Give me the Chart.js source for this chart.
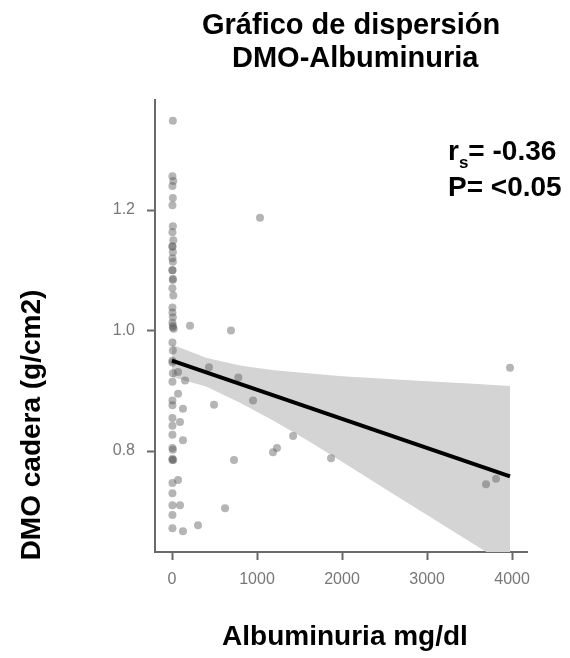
<!DOCTYPE html>
<html>
<head>
<meta charset="utf-8">
<script src="https://cdn.jsdelivr.net/npm/chart.js@4.4.1/dist/chart.umd.min.js"></script>
<style>
  html, body { margin: 0; padding: 0; background: #fff; }
  #wrap { width: 570px; height: 658px; }
</style>
</head>
<body>
<div id="wrap"><canvas id="chart" width="570" height="658"></canvas></div>
<script>
'use strict';
// albuminuria (mg/dl) and hip BMD (g/cm2)
var albX = [10, 5, 15, 5, 10, 5, 10, 5, 15, 5, 10, 5,
  10, 5, 10, 5, 15, 5, 10, 5, 10, 20, 5, 10,
  212, 694, 1035,
  5, 71, 10, 153, 5, 435, 780, 71, 5, 5, 129, 494, 953, 5, 94, 5, 5, 129, 5,
  10, 5, 15, 729, 71, 5, 5, 5, 94, 624, 5, 5, 129, 306,
  1424, 1188, 1235, 1871, 3976, 3694, 3812,
  5, 10, 5, 5, 10, 5, 5];
var dmoY = [1.348, 1.256, 1.248, 1.240, 1.220, 1.208, 1.173, 1.163, 1.150, 1.139, 1.130, 1.120,
  1.114, 1.100, 1.084, 1.070, 1.058, 1.038, 1.022, 1.013, 1.005, 1.003, 0.980, 0.967,
  1.008, 1.000, 1.187,
  0.947, 0.931, 0.929, 0.917, 0.915, 0.939, 0.922, 0.895, 0.884, 0.876, 0.870, 0.877, 0.884, 0.855, 0.848, 0.842, 0.827, 0.818, 0.805,
  0.802, 0.785, 0.785, 0.785, 0.752, 0.747, 0.730, 0.710, 0.710, 0.705, 0.694, 0.672, 0.667, 0.677,
  0.825, 0.798, 0.805, 0.788, 0.938, 0.745, 0.754,
  0.787, 1.008, 1.140, 1.100, 1.086, 1.030, 0.950];

// fitted line and its confidence band
var fitX = [0, 3976];
var fitY = [0.950, 0.758];
var bandX = [0, 400, 800, 1200, 1600, 2000, 2500, 3000, 3500, 3976];
var bandHigh = [0.977, 0.955, 0.942, 0.934, 0.929, 0.924, 0.920, 0.916, 0.912, 0.908];
var bandLow = [0.923, 0.907, 0.880, 0.850, 0.817, 0.782, 0.738, 0.694, 0.650, 0.608];

var xTicks = [0, 1000, 2000, 3000, 4000];
var yTicks = [0.8, 1.0, 1.2];

var font = '"Liberation Sans", Arial, Helvetica, sans-serif';
var axisGrey = '#6a6a6a';

function pairs(xs, ys) {
  var out = [];
  for (var i = 0; i < xs.length; i++) {
    out.push({x: xs[i], y: ys[i]});
  }
  return out;
}

var textPlugin = {
  id: 'texts',
  afterDraw: function(chart) {
    var ctx = chart.ctx;
    ctx.save();
    ctx.fillStyle = '#000';
    ctx.textBaseline = 'alphabetic';
    ctx.textAlign = 'left';
    // title
    ctx.font = 'bold 29px ' + font;
    ctx.fillText('Gráfico de dispersión', 202, 34);
    ctx.fillText('DMO-Albuminuria', 232, 67);
    // correlation note
    ctx.font = 'bold 28px ' + font;
    ctx.fillText('r', 448, 160);
    var w = ctx.measureText('r').width;
    ctx.font = 'bold 17px ' + font;
    ctx.fillText('s', 448 + w, 168);
    var w2 = ctx.measureText('s').width;
    ctx.font = 'bold 28px ' + font;
    ctx.fillText('= -0.36', 448 + w + w2, 160);
    ctx.fillText('P= <0.05', 448, 196);
    // axis titles
    ctx.textAlign = 'center';
    ctx.fillText('Albuminuria mg/dl', 345, 645);
    ctx.translate(40, 425);
    ctx.rotate(-Math.PI / 2);
    ctx.fillText('DMO cadera (g/cm2)', 0, 0);
    ctx.restore();
  }
};

var ctx = document.getElementById('chart').getContext('2d');
new Chart(ctx, {
  type: 'scatter',
  data: {
    datasets: [
      {
        type: 'line',
        data: pairs(fitX, fitY),
        borderColor: '#000',
        borderWidth: 4,
        pointRadius: 0,
        fill: false
      },
      {
        data: pairs(albX, dmoY),
        backgroundColor: 'rgba(90,90,90,0.45)',
        borderWidth: 0,
        pointRadius: 4,
        pointHoverRadius: 4
      },
      {
        type: 'line',
        data: pairs(bandX, bandHigh),
        borderWidth: 0,
        borderColor: 'rgba(0,0,0,0)',
        backgroundColor: '#d4d4d4',
        pointRadius: 0,
        fill: 3
      },
      {
        type: 'line',
        data: pairs(bandX, bandLow),
        borderWidth: 0,
        borderColor: 'rgba(0,0,0,0)',
        pointRadius: 0,
        fill: false
      }
    ]
  },
  options: {
    responsive: false,
    animation: false,
    devicePixelRatio: 1,
    layout: { padding: { top: 100, right: 43, left: 0, bottom: 0 } },
    plugins: { legend: { display: false }, tooltip: { enabled: false } },
    scales: {
      x: {
        type: 'linear',
        min: -200,
        max: 4176,
        afterFit: function(scale) { scale.height = 106; },
        afterBuildTicks: function(scale) {
          scale.ticks = xTicks.map(function(v) { return {value: v}; });
        },
        ticks: {
          color: '#777',
          padding: 10,
          font: { family: font, size: 16 },
          callback: function(v) { return String(v); }
        },
        grid: { drawOnChartArea: false, drawTicks: true, tickLength: 8, tickColor: axisGrey, tickWidth: 2 },
        border: { display: true, color: axisGrey, width: 2 }
      },
      y: {
        type: 'linear',
        min: 0.6324,
        max: 1.3826,
        afterFit: function(scale) { scale.width = 155; },
        afterBuildTicks: function(scale) {
          scale.ticks = yTicks.map(function(v) { return {value: v}; });
        },
        ticks: {
          color: '#777',
          padding: 12,
          font: { family: font, size: 16 },
          callback: function(v) { return v.toFixed(1); }
        },
        grid: { drawOnChartArea: false, drawTicks: true, tickLength: 8, tickColor: axisGrey, tickWidth: 2 },
        border: { display: true, color: axisGrey, width: 2 }
      }
    }
  },
  plugins: [textPlugin]
});
</script>
</body>
</html>
